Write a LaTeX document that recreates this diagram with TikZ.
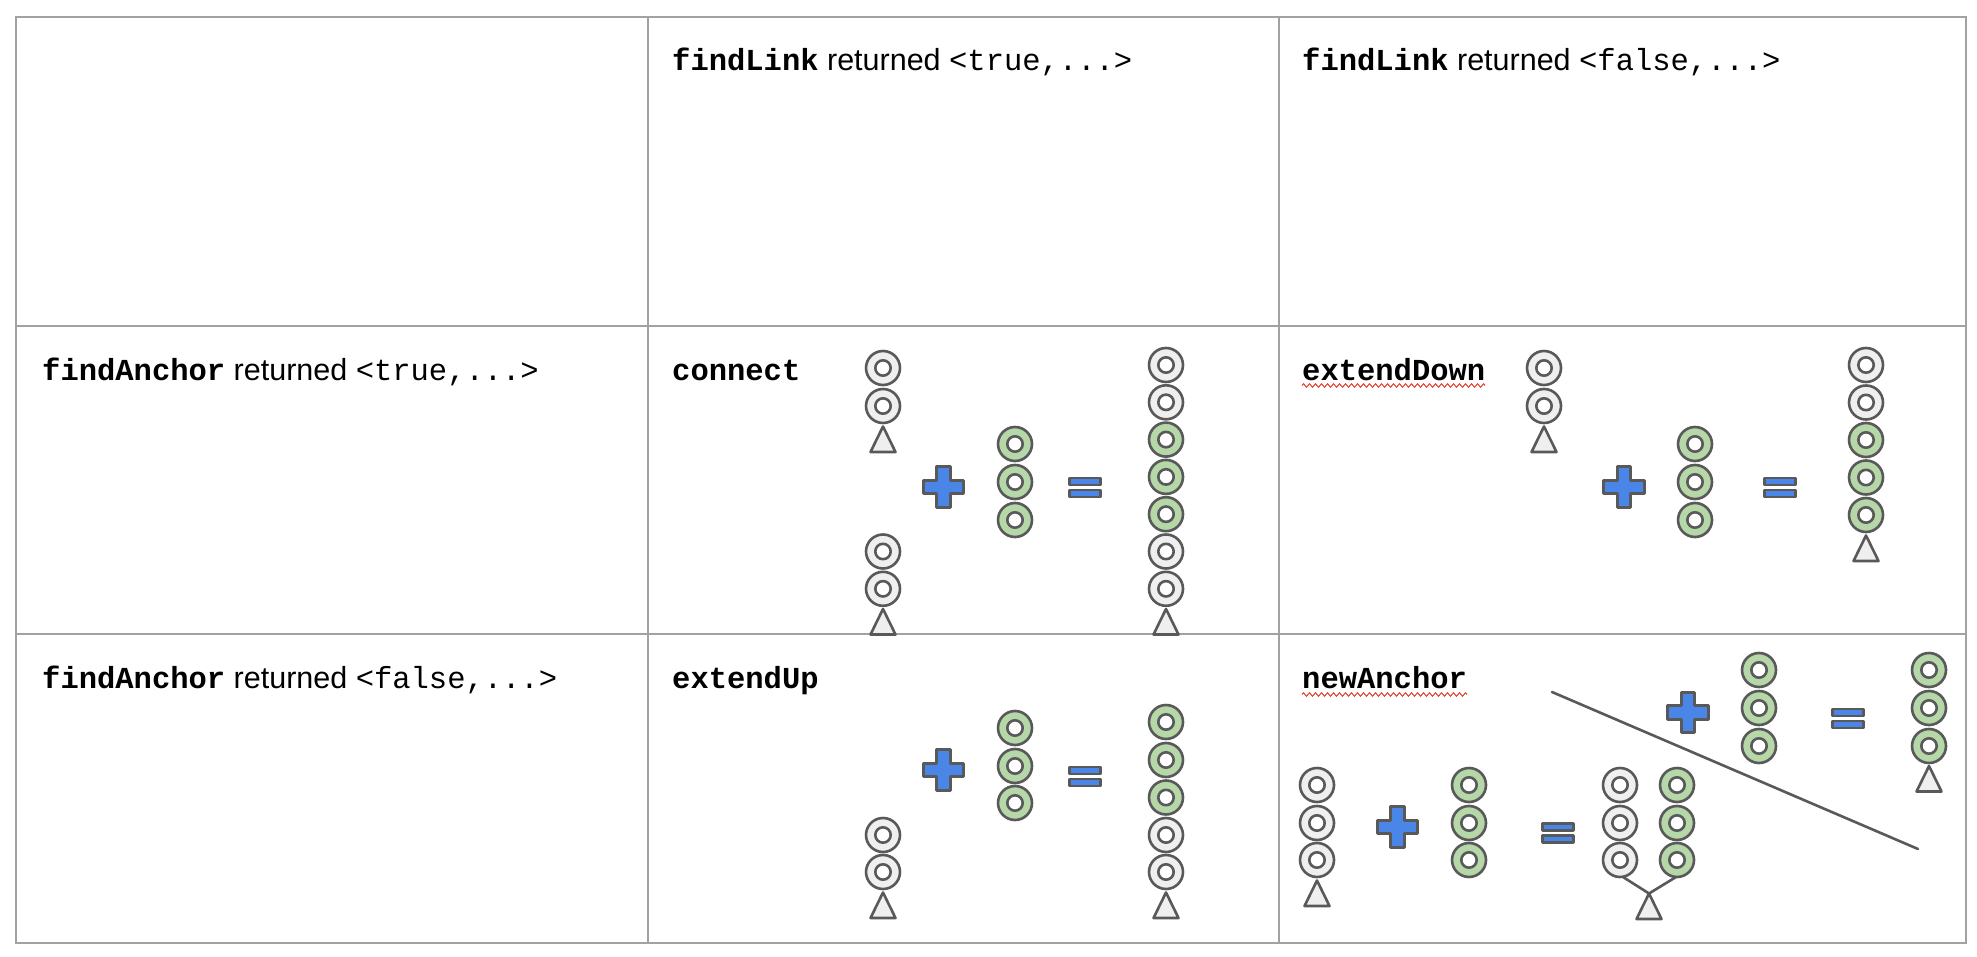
\documentclass[tikz,border=0pt]{standalone}
\usepackage{fontspec}
\setmainfont{Liberation Sans}
\newfontfamily\codefont{Liberation Mono}
\usetikzlibrary{decorations.pathmorphing}
\definecolor{gridgray}{HTML}{A2A2A2}
\definecolor{edgegray}{HTML}{595959}
\definecolor{ringgray}{HTML}{EFEFEF}
\definecolor{ringgreen}{HTML}{B6D7A8}
\definecolor{opblue}{HTML}{4A86E8}
\definecolor{spellred}{HTML}{E0321F}
\newcommand{\cb}[1]{{\codefont\bfseries #1}}
\newcommand{\ct}[1]{{\codefont #1}}
\newcommand{\ringat}[3]{%
  \draw[shapeline, fill=#3] (#1,#2) circle[radius=17pt];
  \draw[shapeline, fill=white] (#1,#2) circle[radius=7.7pt];}
\newcommand{\triat}[2]{%
  \draw[shapeline, fill=ringgray] (#1,#2) -- ++(-12.5,25.5) -- ++(25,0) -- cycle;}
\newcommand{\plusat}[2]{%
  \draw[shapeline, fill=opblue] (#1,#2) ++(-6.75,-20.25) -- ++(13.5,0) -- ++(0,13.5)
   -- ++(13.5,0) -- ++(0,13.5) -- ++(-13.5,0) -- ++(0,13.5) -- ++(-13.5,0)
   -- ++(0,-13.5) -- ++(-13.5,0) -- ++(0,-13.5) -- ++(13.5,0) -- cycle;}
\newcommand{\eqat}[2]{%
  \draw[shapeline, fill=opblue] (#1-15.75,#2-9.4) rectangle (#1+15.75,#2-2.6);
  \draw[shapeline, fill=opblue] (#1-15.75,#2+2.6) rectangle (#1+15.75,#2+9.4);}
\begin{document}
\begin{tikzpicture}[x=1pt,y=-1pt,
  gridline/.style={draw=gridgray, line width=2.2pt},
  shapeline/.style={draw=edgegray, line width=2.6pt, line join=round},
  edgeline/.style={draw=edgegray, line width=2.6pt, line cap=round},
  spell/.style={draw=spellred, line width=0.9pt, decorate,
     decoration={zigzag, segment length=6pt, amplitude=1.8pt}},
  label/.style={anchor=base west, inner sep=0pt, font=\fontsize{30.5}{36}\selectfont}]
\useasboundingbox (0,0) rectangle (1977,957);
\fill[white] (0,0) rectangle (1977,957);
% table grid
\draw[gridline] (16,17) rectangle (1966,943);
\draw[gridline] (648,17) -- (648,943);
\draw[gridline] (1279,17) -- (1279,943);
\draw[gridline] (16,326) -- (1966,326);
\draw[gridline] (16,634) -- (1966,634);
% texts
\node[label] (hTrue) at (672,71) {\cb{findLink} returned \ct{<true,...>}};
\node[label] (hFalse) at (1302,71) {\cb{findLink} returned \ct{<false,...>}};
\node[label] (rTrue) at (42,380) {\cb{findAnchor} returned \ct{<true,...>}};
\node[label] (rFalse) at (42,688) {\cb{findAnchor} returned \ct{<false,...>}};
\node[label] (lConnect) at (672,380) {\cb{connect}};
\node[label] (lExtDown) at (1302,380) {\cb{extendDown}};
\node[label] (lExtUp) at (672,688) {\cb{extendUp}};
\node[label] (lNewAnchor) at (1302,688) {\cb{newAnchor}};
\draw[spell] (1302,385.5) -- (1485,385.5);
\draw[spell] (1302,694.5) -- (1467,694.5);
% ---- connect ----
\ringat{883}{368}{ringgray}\ringat{883}{406}{ringgray}\triat{883}{426.5}
\plusat{943.5}{487}
\ringat{1015}{444}{ringgreen}\ringat{1015}{482}{ringgreen}\ringat{1015}{520}{ringgreen}
\eqat{1085}{487.5}
\ringat{1166}{365}{ringgray}\ringat{1166}{402.3}{ringgray}
\ringat{1166}{439.6}{ringgreen}\ringat{1166}{476.9}{ringgreen}\ringat{1166}{514.2}{ringgreen}
\ringat{1166}{551.5}{ringgray}\ringat{1166}{588.8}{ringgray}\triat{1166}{609}
\ringat{883}{551.5}{ringgray}\ringat{883}{588.8}{ringgray}\triat{883}{609}
% ---- extendDown ----
\ringat{1544}{368}{ringgray}\ringat{1544}{406}{ringgray}\triat{1544}{426.5}
\plusat{1624}{487}
\ringat{1695}{444}{ringgreen}\ringat{1695}{482}{ringgreen}\ringat{1695}{520}{ringgreen}
\eqat{1780}{487.5}
\ringat{1866}{365}{ringgray}\ringat{1866}{402.5}{ringgray}
\ringat{1866}{440}{ringgreen}\ringat{1866}{477.5}{ringgreen}\ringat{1866}{515}{ringgreen}
\triat{1866}{535.5}
% ---- extendUp ----
\plusat{943.5}{770}
\ringat{1015}{728}{ringgreen}\ringat{1015}{766}{ringgreen}\ringat{1015}{803}{ringgreen}
\eqat{1085}{776.5}
\ringat{1166}{722}{ringgreen}\ringat{1166}{760}{ringgreen}\ringat{1166}{797.5}{ringgreen}
\ringat{1166}{835}{ringgray}\ringat{1166}{872}{ringgray}\triat{1166}{892.5}
\ringat{883}{835}{ringgray}\ringat{883}{872}{ringgray}\triat{883}{892.5}
% ---- newAnchor ----
\ringat{1317}{785}{ringgray}\ringat{1317}{823}{ringgray}\ringat{1317}{860}{ringgray}
\triat{1317}{880.5}
\plusat{1397.5}{827}
\ringat{1469}{785}{ringgreen}\ringat{1469}{823}{ringgreen}\ringat{1469}{860}{ringgreen}
\eqat{1558}{833}
\coordinate (apexN) at (1649,893.5);
\coordinate (footG) at (1623,877);
\coordinate (footR) at (1676,877);
\draw[edgeline] (footG) -- (apexN) -- (footR);
\ringat{1620}{785}{ringgray}\ringat{1620}{823}{ringgray}\ringat{1620}{860}{ringgray}
\ringat{1677}{785}{ringgreen}\ringat{1677}{823}{ringgreen}\ringat{1677}{860}{ringgreen}
\triat{1649}{893.5}
\coordinate (diagA) at (1552,692);
\coordinate (diagB) at (1918,849);
\draw[edgeline] (diagA) -- (diagB);
\plusat{1688}{712.5}
\ringat{1759}{670}{ringgreen}\ringat{1759}{708}{ringgreen}\ringat{1759}{746}{ringgreen}
\eqat{1848}{718.5}
\ringat{1929}{670}{ringgreen}\ringat{1929}{708}{ringgreen}\ringat{1929}{746}{ringgreen}
\triat{1929}{766}
\end{tikzpicture}
\end{document}
